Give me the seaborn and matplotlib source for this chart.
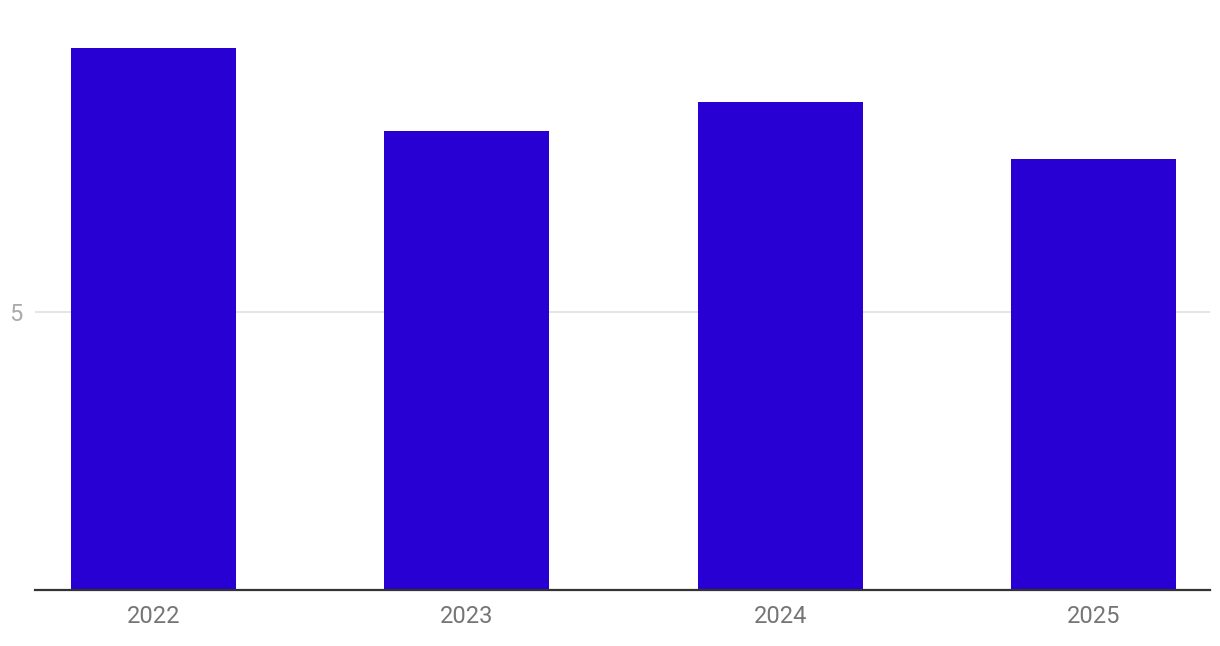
import pandas as pd
import matplotlib
matplotlib.use("Agg")
import matplotlib.pyplot as plt
import seaborn as sns

years = ["2022", "2023", "2024", "2025"]
values = [9.75, 8.26, 8.79, 7.75]

sns.set_style("white")
plt.rcParams["font.family"] = ["Roboto", "DejaVu Sans"]

df = pd.DataFrame({"year": years, "value": values})

fig = plt.figure(figsize=(12.2, 6.46), dpi=100)
ax = fig.add_axes([35 / 1220, 56 / 646, 1175 / 1220, 589 / 646])

sns.barplot(data=df, x="year", y="value", color="#2800d4", saturation=1,
            width=0.527, linewidth=0, ax=ax, zorder=3)

ax.set_xlim(-0.378, 3.372)
ax.set_ylim(0, 10.6)
ax.set_yticks([5])
ax.yaxis.grid(True, color="#e3e3e3", linewidth=1.3, zorder=0)
ax.set_axisbelow(True)

for side in ["top", "right", "left"]:
    ax.spines[side].set_visible(False)
ax.spines["bottom"].set_color("#333333")
ax.spines["bottom"].set_linewidth(1.6)
ax.spines["bottom"].set_zorder(4)

ax.tick_params(axis="x", length=0, pad=10.5, labelsize=17, labelcolor="#757575")
ax.tick_params(axis="y", length=0, pad=9, labelsize=17, labelcolor="#aaaaaa")
ax.set_xlabel("")
ax.set_ylabel("")

fig.savefig("out.png", dpi=100)
